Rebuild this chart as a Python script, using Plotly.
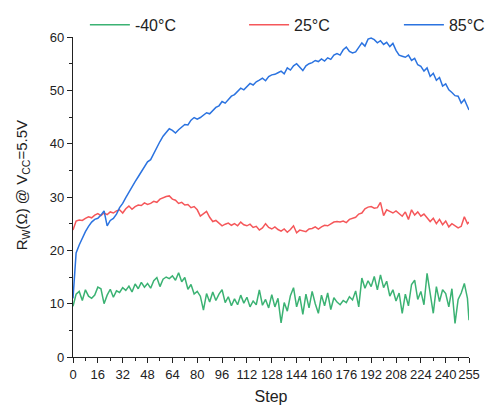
import plotly.graph_objects as go

# Sweep steps (sampled every 2 steps, plus the final step 255)
steps = list(range(0, 256, 2)) + [255]

# Wiper resistance R_W (ohm) at Vcc = 5.5 V for each temperature
r_m40 = [
    9.5, 11.8, 12.3, 10.6, 12.6, 11.4, 11.0, 11.6, 13.1, 12.8,
    10.0, 11.6, 12.7, 11.2, 12.4, 12.1, 13.0, 12.5, 13.3, 12.2,
    13.7, 12.8, 14.0, 13.1, 13.8, 12.9, 14.3, 14.9, 13.2, 14.6,
    15.0, 14.7, 15.2, 14.4, 15.8, 14.1, 14.9, 12.7, 13.6, 11.8,
    12.3, 11.4, 8.8, 11.9, 10.3, 12.2, 10.6, 11.8, 12.6, 10.2,
    11.3, 9.6, 10.9, 9.8, 11.6, 10.1, 11.2, 9.4, 10.5, 9.8,
    12.6, 9.7, 10.8, 9.2, 11.7, 9.4, 11.0, 6.4, 10.2, 8.6,
    11.5, 13.0, 9.4, 11.4, 8.0, 11.8, 9.2, 12.3, 10.0, 8.2,
    11.6, 9.6, 12.0, 8.9, 11.1, 10.3, 9.8, 10.6, 10.2, 11.3,
    10.7, 12.4, 9.4, 14.8, 12.9, 14.3, 13.2, 15.1, 12.6, 15.4,
    13.0, 14.2, 11.4, 12.6, 10.5, 12.0, 8.2, 11.8, 9.6, 13.6,
    14.4, 10.8, 12.3, 9.8, 15.7, 11.6, 8.2, 13.2, 10.4, 12.6,
    11.9, 9.4, 12.8, 6.3, 10.8, 12.0, 13.8, 11.0, 6.9,
]

r_25 = [
    23.8, 25.5, 25.7, 25.6, 26.0, 26.3, 26.1, 26.6, 26.9, 26.5,
    27.0, 26.7, 27.2, 27.0, 27.4, 27.6, 27.0, 27.8, 28.3, 27.7,
    28.2, 28.5, 28.4, 28.9, 28.6, 28.8, 29.2, 29.0, 29.6, 29.9,
    30.1, 30.2, 29.6, 29.4, 28.8, 29.0, 28.5, 28.6, 28.0, 28.2,
    27.6, 26.4, 26.8, 27.3, 26.2, 25.4, 25.6, 25.0, 24.6, 24.9,
    25.1, 24.7, 25.0, 24.6, 25.3, 24.8, 24.6, 24.9, 24.3, 24.5,
    23.8, 24.2, 25.0, 24.3, 24.0, 24.4, 23.9, 23.6, 24.0, 23.4,
    23.9, 24.6, 23.3, 23.8, 23.6, 23.5, 24.0, 24.1, 24.4, 24.0,
    24.4, 24.7, 24.6, 25.0, 25.3, 25.4, 25.3, 25.5, 25.2, 25.8,
    26.0, 26.2, 26.8, 27.0, 27.8, 28.1, 28.2, 27.9, 28.0, 29.0,
    26.5, 27.6, 27.3, 27.0, 27.4, 26.9, 26.4, 27.2, 25.8, 27.6,
    26.6, 27.2, 26.4, 26.8, 26.2, 25.4, 26.0, 25.0, 25.8, 24.8,
    25.5, 24.4, 25.0, 24.6, 24.2, 24.5, 26.3, 25.0, 25.3,
]

r_85 = [
    11.0, 19.5, 21.0, 22.3, 23.5, 24.5, 25.3, 25.8, 26.0, 26.6,
    27.4, 24.6, 25.6, 26.0, 26.8, 28.0, 28.8, 29.9, 31.0, 31.8,
    32.9, 33.8, 34.7, 35.8, 36.6, 37.0, 38.2, 39.3, 40.4, 41.4,
    42.2, 42.8, 42.5, 42.0, 42.6, 43.2, 43.6, 43.5, 44.4, 44.9,
    44.6, 44.9, 45.4, 45.8, 45.6, 46.3, 46.8, 47.1, 47.9, 47.6,
    48.3, 48.9, 49.2, 49.9, 50.4, 50.1, 50.8, 51.3, 51.0, 51.6,
    51.9, 52.3, 51.8, 52.6, 52.9, 53.0, 53.3, 53.6, 53.1, 54.2,
    53.8, 54.6, 55.0, 54.3, 53.7, 54.6, 55.0, 55.2, 55.6, 55.4,
    55.9, 55.5, 56.1, 55.8, 56.6, 56.9, 56.6, 57.6, 58.1, 57.3,
    57.0, 57.2, 58.0, 58.9, 58.3, 59.6, 59.8, 59.5, 58.9, 59.3,
    58.6, 59.0, 58.2, 58.8, 57.5, 56.6, 56.4, 56.2, 56.6, 55.6,
    56.0, 54.8, 54.5, 53.6, 54.2, 52.6, 53.2, 51.9, 52.4, 50.8,
    51.2, 50.1, 49.6, 49.0, 48.9, 47.6, 48.3, 46.8, 46.3,
]

x_tick_vals = [0, 16, 32, 48, 64, 80, 96, 112, 128, 144, 160, 176, 192, 208, 224, 240, 255]
x_tick_text = [str(v) for v in x_tick_vals]
x_minor_vals = [8, 24, 40, 56, 72, 88, 104, 120, 136, 152, 168, 184, 200, 216, 232, 248]

# (label, values, colour, legend id, legend x position in paper units)
series = [
    ("-40°C", r_m40, "#3bb273", "legend", 0.030),
    ("25°C", r_25, "#f5575a", "legend2", 0.432),
    ("85°C", r_85, "#2b73e0", "legend3", 0.823),
]

FONT = "Liberation Sans, Arial, sans-serif"

fig = go.Figure()
for name, vals, color, leg, _ in series:
    fig.add_trace(go.Scatter(
        x=steps, y=vals, mode="lines", name=name, legend=leg, showlegend=True,
        line=dict(color=color, width=1.5),
    ))

axis_common = dict(
    showline=True, linecolor="#222", linewidth=1.2,
    showgrid=False, zeroline=False,
    ticks="outside", ticklen=5, tickwidth=1.2, tickcolor="#222",
    tickfont=dict(family=FONT, size=13, color="#222"),
)

fig.update_xaxes(
    range=[0, 255], tickmode="array", tickvals=x_tick_vals, ticktext=x_tick_text,
    tickangle=0,
    minor=dict(tickmode="array", tickvals=x_minor_vals, ticks="outside",
               ticklen=3, tickwidth=1, tickcolor="#222"),
    title=dict(text="Step", font=dict(family=FONT, size=16, color="#222"), standoff=15),
    **axis_common,
)
fig.update_yaxes(
    range=[0, 60], tickmode="linear", tick0=0, dtick=10,
    minor=dict(tickmode="linear", tick0=0, dtick=5, ticks="outside",
               ticklen=3, tickwidth=1, tickcolor="#222"),
    **axis_common,
)

# y-axis title, placed slightly above the plot's vertical centre
fig.add_annotation(
    text="R<sub>W</sub>(Ω) @ V<sub>CC</sub>=5.5V",
    xref="paper", yref="paper", x=-0.128, y=0.5375,
    xanchor="center", yanchor="middle", textangle=-90, showarrow=False,
    font=dict(family=FONT, size=15, color="#222"),
)

legend_style = dict(
    orientation="h", y=1.038, xanchor="left", yanchor="middle",
    font=dict(family=FONT, size=16, color="#222"),
    bgcolor="rgba(0,0,0,0)", itemwidth=40,
)
legends = {leg: dict(x=lx, **legend_style) for _, _, _, leg, lx in series}

fig.update_layout(
    width=486, height=405,
    margin=dict(l=73, r=17, t=37, b=48, autoexpand=False),
    paper_bgcolor="white", plot_bgcolor="white",
    font=dict(family=FONT, color="#222"),
    showlegend=True,
    **legends,
)

fig.write_html("out.html")
